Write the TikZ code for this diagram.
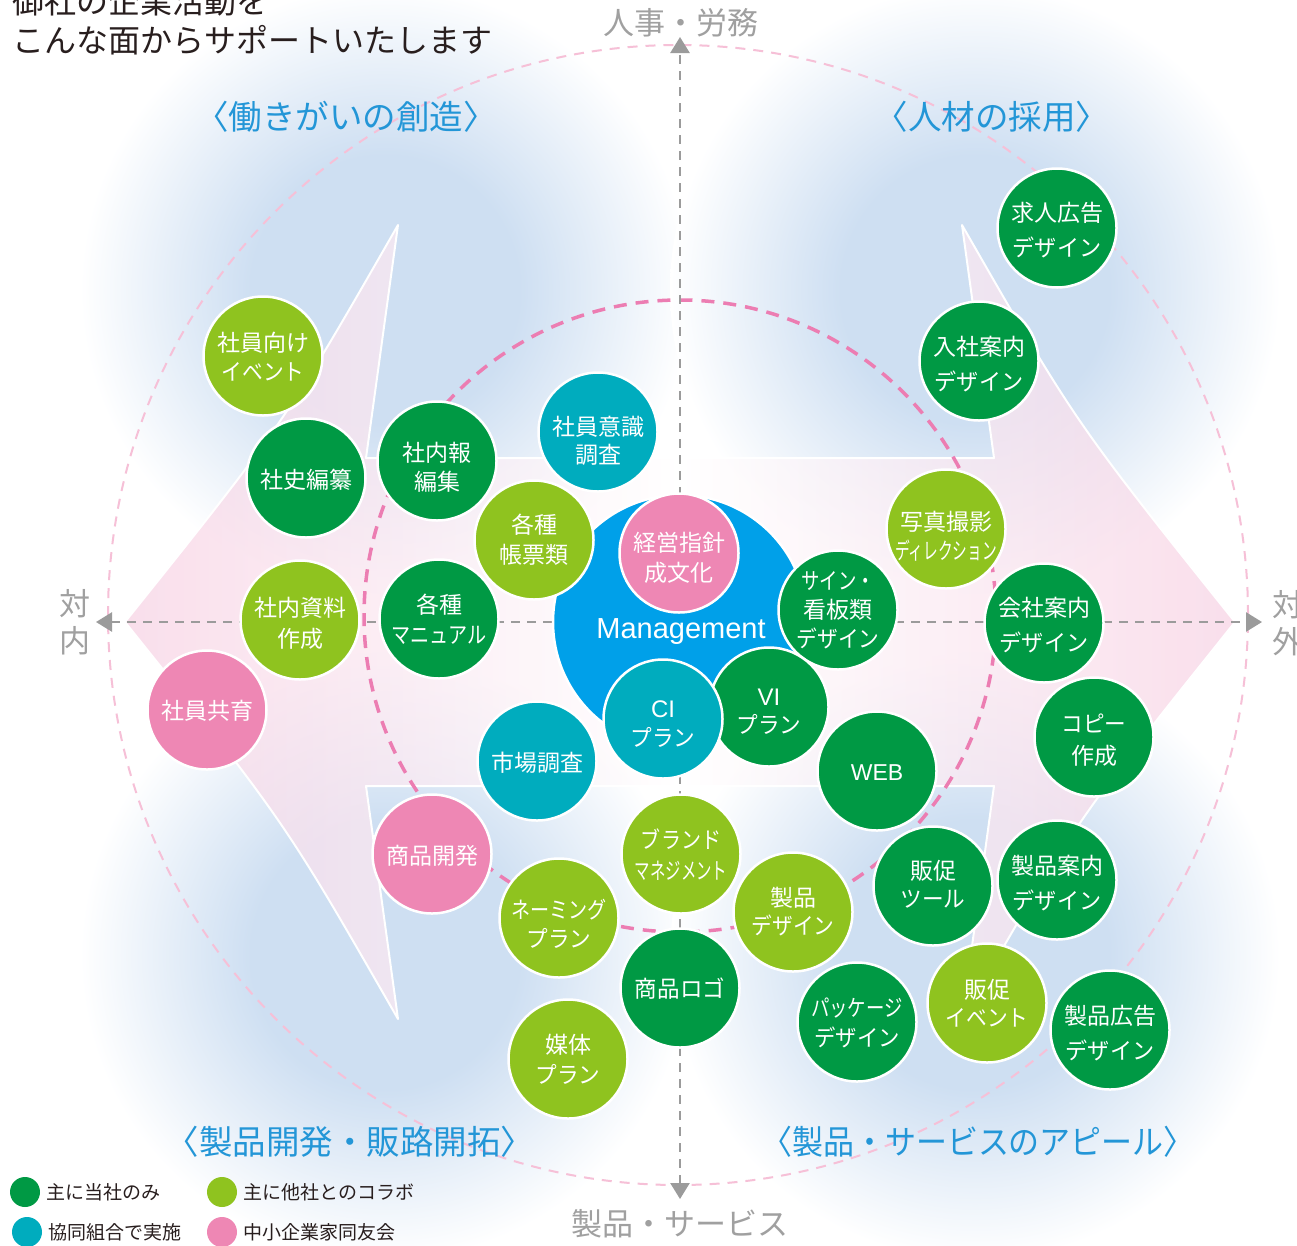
\documentclass[tikz,border=0pt]{standalone}
\usepackage{fontspec}
\usepackage{graphicx}
\setmainfont{Noto Sans CJK JP}
\newfontfamily\latin{Liberation Sans}
\usetikzlibrary{arrows.meta}
\definecolor{cgreen}{RGB}{0,153,68}
\definecolor{cygreen}{RGB}{143,195,31}
\definecolor{cteal}{RGB}{0,172,190}
\definecolor{cpink}{RGB}{238,135,180}
\definecolor{cblue}{RGB}{0,160,233}
\definecolor{blobc}{RGB}{206,223,242}
\definecolor{arrpink}{RGB}{248,212,229}
\definecolor{qblue}{RGB}{35,150,215}
\definecolor{axgray}{RGB}{155,155,155}
\definecolor{labgray}{RGB}{160,160,160}
\definecolor{dashpink}{RGB}{236,125,178}
\definecolor{lightpink}{RGB}{246,192,215}
\definecolor{txtdark}{RGB}{40,30,30}
\pgfdeclareradialshading{blob}{\pgfpoint{0bp}{0bp}}{color(0bp)=(blobc); color(11bp)=(blobc); color(25bp)=(white); color(50bp)=(white)}
\newcommand\sq[2]{\scalebox{#1}[1]{#2}}
% \bubble{name}{colour}{x,y}{font style}{text yshift}{text}
\newcommand\bubble[6]{%
  \node[bub, fill=#2] (#1) at (#3) {};
  \node[btxt, #4] (#1t) at ([yshift=#5]#1.center) {#6};}
\tikzset{
  bub/.style={circle, draw=white, line width=2.5pt, minimum size=119pt, inner sep=0pt},
  btxt/.style={text=white, align=center, inner sep=0pt},
  s28/.style={font=\fontsize{23}{28}\selectfont},
  s29/.style={font=\fontsize{23}{29}\selectfont},
  s30/.style={font=\fontsize{23}{30}\selectfont},
  s31/.style={font=\fontsize{23}{31}\selectfont},
  s32/.style={font=\fontsize{23}{32}\selectfont},
  s35/.style={font=\fontsize{23}{35}\selectfont},
  qtitle/.style={text=qblue, font=\fontsize{33.5}{34}\selectfont},
  glab/.style={text=labgray, font=\fontsize{31}{37}\selectfont, align=center},
  axisline/.style={axgray, line width=2.5pt, dash pattern=on 9pt off 7pt,
    arrows={Triangle[width=19pt,length=16pt]-Triangle[width=19pt,length=16pt]}},
  legdot/.style={circle, minimum size=30pt, inner sep=0pt},
  legtxt/.style={anchor=west, text=txtdark, font=\fontsize{19}{19}\selectfont, inner sep=6pt}
}
\begin{document}
\begin{tikzpicture}[x=1pt,y=-1pt]
\useasboundingbox (0,0) rectangle (1297,1245);
\clip (0,0) rectangle (1297,1245);
\fill[white] (0,0) rectangle (1297,1245);
% blue blobs
\shade[shading=blob] (385,290) circle[radius=305pt];
\shade[shading=blob] (975,290) circle[radius=305pt];
\shade[shading=blob] (385,955) circle[radius=305pt];
\shade[shading=blob] (975,955) circle[radius=305pt];
% double arrow
\shade[left color=arrpink, right color=arrpink, middle color=white, fill opacity=0.75]
  (125,622) .. controls (285,422) .. (398,225) -- (366,458) -- (994,458) -- (962,225)
  .. controls (1075,422) .. (1235,622) .. controls (1075,822) .. (962,1019)
  -- (994,786) -- (366,786) -- (398,1019) .. controls (285,822) .. (125,622) -- cycle;
\draw[white, line width=2pt, line join=round]
  (125,622) .. controls (285,422) .. (398,225) -- (366,458) -- (994,458) -- (962,225)
  .. controls (1075,422) .. (1235,622) .. controls (1075,822) .. (962,1019)
  -- (994,786) -- (366,786) -- (398,1019) .. controls (285,822) .. (125,622) -- cycle;
% dashed circles
\draw[lightpink, line width=2pt, dash pattern=on 10pt off 8pt] (678,615) circle[radius=570pt];
\draw[dashpink, line width=3.5pt, dash pattern=on 13pt off 9pt] (680,616) circle[radius=316pt];
% axes
\coordinate (axT) at (680,37);
\coordinate (axB) at (680,1199);
\coordinate (axL) at (96,622);
\coordinate (axR) at (1262,622);
\draw[axisline] (axB) -- (axT);
\draw[axisline] (axL) -- (axR);
% axis labels
\node[glab] (jinji) at (681,23) {人事・労務};
\node[glab] (seihinsv) at (680,1224) {製品・サービス};
\node[glab] (tainai) at (75,622) {対\\内};
\node[glab] (taigai) at (1288,623) {対\\外};
% quadrant titles
\node[qtitle] (q1) at (346,117) {〈働きがいの創造〉};
\node[qtitle] (q2) at (992,117) {〈人材の採用〉};
\node[qtitle] (q3) at (350,1142) {〈製品開発・販路開拓〉};
\node[qtitle] (q4) at (978,1142) {\sq{0.925}{〈製品・サービスのアピール〉}};
% heading
\node[anchor=west, align=left, text=txtdark, font=\fontsize{32}{39}\selectfont, inner sep=0pt] (head) at (12,21) {御社の企業活動を\\こんな面からサポートいたします};
% management
\node[circle, fill=cblue, draw=white, line width=2.5pt, minimum size=254pt, inner sep=0pt] (mgmt) at (680,622) {};
\node[text=white, font=\latin\fontsize{29}{29}\selectfont] (mgmtlabel) at (681,632) {Management};
% bubbles
\bubble{jinko}{cgreen}{1057,228}{s35}{-2pt}{求人広告\\\sq{0.96}{デザイン}}
\bubble{nyusha}{cgreen}{979,361}{s35}{-3pt}{入社案内\\\sq{0.96}{デザイン}}
\bubble{shashin}{cygreen}{946,529}{s29}{-7pt}{写真撮影\\\sq{0.64}{ディレクション}}
\bubble{sign}{cgreen}{838,610}{s29}{0pt}{\sq{0.8}{サイン・}\\看板類\\\sq{0.9}{デザイン}}
\bubble{kaisha}{cgreen}{1044,623}{s35}{-2pt}{会社案内\\\sq{0.96}{デザイン}}
\bubble{copy}{cgreen}{1094,737}{s32}{-3pt}{\sq{0.94}{コピー}\\作成}
\bubble{web}{cgreen}{877,771}{font=\latin\fontsize{23}{28}\selectfont}{-2pt}{WEB}
\bubble{vi}{cgreen}{769,707}{s28}{-5pt}{{\latin\fontsize{24}{28}\selectfont VI}\\\sq{0.94}{プラン}}
\bubble{ci}{cteal}{663,719}{s29}{-5pt}{{\latin\fontsize{24}{29}\selectfont CI}\\\sq{0.94}{プラン}}
\bubble{keiei}{cpink}{679,553}{s30}{-5pt}{経営指針\\成文化}
\bubble{ishiki}{cteal}{598,432}{s28}{-9pt}{社員意識\\調査}
\bubble{shanai}{cgreen}{437,461}{s29}{-6pt}{社内報\\編集}
\bubble{chohyo}{cygreen}{534,540}{s30}{0pt}{各種\\帳票類}
\bubble{event}{cygreen}{263,356}{s29}{-1pt}{社員向け\\\sq{0.9}{イベント}}
\bubble{shishi}{cgreen}{306,478}{s30}{-2pt}{社史編纂}
\bubble{shiryo}{cygreen}{300,620}{s31}{-3pt}{社内資料\\作成}
\bubble{manual}{cgreen}{439,619}{s30}{0pt}{各種\\\sq{0.83}{マニュアル}}
\bubble{kyoiku}{cpink}{207,710}{s30}{-1pt}{社員共育}
\bubble{shijo}{cteal}{537,761}{s30}{-2pt}{市場調査}
\bubble{shohin}{cpink}{432,854}{s30}{-2pt}{商品開発}
\bubble{brand}{cygreen}{681,854}{s31}{-1pt}{\sq{0.87}{ブランド}\\\sq{0.67}{マネジメント}}
\bubble{naming}{cygreen}{559,918}{s29}{-6pt}{\sq{0.83}{ネーミング}\\\sq{0.94}{プラン}}
\bubble{seihin}{cygreen}{793,912}{s28}{0pt}{製品\\\sq{0.9}{デザイン}}
\bubble{logo}{cgreen}{680,988}{s30}{-1pt}{\sq{0.98}{商品ロゴ}}
\bubble{baitai}{cygreen}{568,1059}{s30}{0pt}{媒体\\\sq{0.94}{プラン}}
\bubble{tool}{cgreen}{933,886}{s28}{2pt}{販促\\\sq{0.94}{ツール}}
\bubble{annai}{cgreen}{1057,880}{s35}{-3pt}{製品案内\\\sq{0.96}{デザイン}}
\bubble{package}{cgreen}{857,1022}{s30}{-1pt}{\sq{0.8}{パッケージ}\\\sq{0.93}{デザイン}}
\bubble{hevent}{cygreen}{987,1003}{s28}{0pt}{販促\\\sq{0.9}{イベント}}
\bubble{kokoku}{cgreen}{1110,1030}{s35}{-3pt}{製品広告\\\sq{0.96}{デザイン}}
% legend
\node[legdot, fill=cgreen] (lg1) at (25,1192) {};
\node[legtxt] (lt1) at (lg1.east) {主に当社のみ};
\node[legdot, fill=cygreen] (lg2) at (222,1192) {};
\node[legtxt] (lt2) at (lg2.east) {主に他社とのコラボ};
\node[legdot, fill=cteal] (lg3) at (27,1232) {};
\node[legtxt] (lt3) at (lg3.east) {協同組合で実施};
\node[legdot, fill=cpink] (lg4) at (222,1232) {};
\node[legtxt] (lt4) at (lg4.east) {中小企業家同友会};
\end{tikzpicture}
\end{document}
